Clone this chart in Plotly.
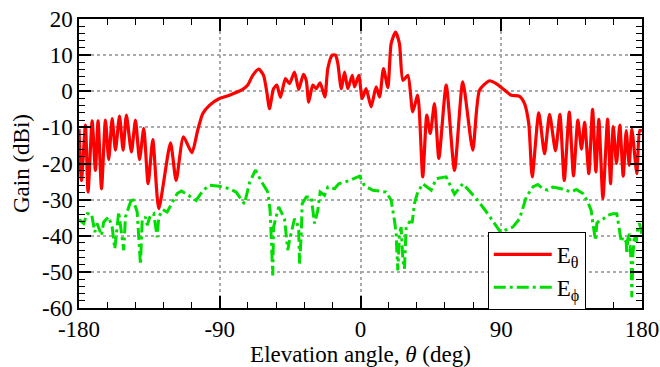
import plotly.graph_objects as go

# E_theta (red) : angle (deg), gain (dBi)
theta_red = [-180, -178.4, -175.9, -174.2, -171.6, -169.5, -167.8, -165.6, -163.1, -161.0,
             -158.8, -156.7, -154.1, -151.8, -149.7, -146.5, -143.9, -141.3, -138.6, -135.8,
             -132.8, -129.0, -121.5, -117.9, -113.2, -107.8, -104.1, -100.9, -96.6, -90.2,
             -83.8, -75.3, -72.1, -68.9, -65.0, -62.0, -59.9, -58.2, -55.6, -53.5,
             -51.2, -48.0, -45.4, -42.2, -39.5, -36.5, -34.7, -33.1, -30.5, -28.3,
             -25.8, -22.8, -20.9, -18.1, -16.0, -14.5, -12.3, -10.2, -8.1, -5.3,
             -3.8, -1.1, 1.1, 3.6, 6.8, 10.0, 12.2, 14.7, 17.5, 19.6,
             22.4, 24.9, 27.1, 30.3, 33.4, 36.6, 39.8, 42.4, 44.6, 47.3,
             50.1, 54.8, 60.1, 65.4, 71.8, 76.1, 82.5, 86.8, 91.0, 96.4,
             101.7, 104.9, 107.6, 109.8, 114.0, 117.7, 120.9, 124.7, 127.5, 130.3,
             133.5, 136.2, 139.0, 141.3, 143.3, 146.0, 148.4, 150.5, 152.4, 155.0,
             158.0, 159.9, 161.6, 163.7, 165.8, 168.0, 169.9, 171.8, 173.5, 176.7,
             178.6, 180]
gain_red = [-10.5, -24.7, -9.4, -27.9, -8.2, -21.9, -8.2, -27.0, -8.0, -18.9,
            -7.6, -16.3, -6.9, -16.3, -6.6, -16.8, -8.0, -18.9, -10.3, -25.6,
            -13.4, -32.5, -14.3, -24.7, -12.6, -17.0, -10.8, -6.2, -3.9, -2.0,
            -1.1, 0.5, 1.7, 4.4, 6.1, 4.4, -0.2, -4.8, 0.7, 1.7,
            -1.7, 3.5, 2.1, 5.3, 0.5, 4.7, 3.0, -3.0, 1.7, 0.7,
            2.3, -1.6, 6.3, 10.0, 10.0, 7.7, 0.7, 5.3, 0.7, 4.4,
            1.2, 4.4, -2.0, 0.7, -4.3, 1.2, -1.6, 6.3, 1.0, 13.2,
            16.4, 13.2, 3.0, 4.4, -5.7, -1.1, -23.7, -6.6, -11.7, -3.4,
            -18.6, 1.7, -21.9, 2.6, -16.3, 0.3, 2.9, 2.1, 0.7, -1.1,
            -1.4, -3.4, -9.0, -23.7, -6.0, -17.3, -6.4, -16.5, -6.4, -24.7,
            -5.8, -23.4, -8.0, -16.0, -8.6, -22.8, -5.0, -22.3, -7.8, -29.7,
            -7.7, -25.6, -9.8, -20.0, -9.4, -23.5, -10.9, -20.5, -10.5, -22.8,
            -10.8, -11.0]

# E_phi (green) : angle (deg), gain (dBi)
theta_green = [-180, -177.0, -174.8, -172.0, -169.9, -168.4, -165.6, -164.2, -161.0, -158.8,
               -157.1, -155.6, -154.6, -152.9, -151.4, -150.3, -148.6, -146.0, -142.8, -141.2,
               -140.7, -139.6, -137.5, -136.4, -134.3, -132.2, -130.0, -129.0, -126.4, -123.6,
               -120.4, -117.2, -114.5, -110.6, -105.1, -100.9, -96.6, -90.2, -83.8, -79.5,
               -74.2, -71.0, -67.2, -63.5, -59.3, -57.8, -57.1, -56.5, -56.1, -55.6,
               -54.4, -52.3, -48.6, -47.1, -46.5, -45.4, -43.7, -42.2, -40.7, -39.5,
               -39.0, -37.9, -37.3, -34.7, -31.5, -29.4, -27.3, -25.8, -23.0, -20.9,
               -16.6, -13.9, -7.0, -0.6, 2.6, 7.9, 16.4, 19.6, 21.7, 22.8,
               23.2, 23.9, 24.9, 26.0, 27.1, 28.1, 29.2, 31.3, 33.1, 34.5,
               36.6, 39.8, 45.2, 48.4, 54.8, 60.1, 65.4, 74.0, 81.4, 89.5,
               97.4, 101.7, 106.0, 110.2, 113.4, 116.6, 119.8, 123.0, 128.4, 134.8,
               138.0, 142.2, 145.4, 147.5, 148.6, 150.3, 151.1, 152.9, 155.4, 158.2,
               161.4, 163.9, 165.6, 166.7, 167.8, 169.9, 170.3, 171.0, 172.0, 173.1,
               173.5, 174.2, 175.2, 176.3, 177.4, 178.4, 180]
gain_green = [-35.5, -36.6, -33.9, -33.9, -39.0, -36.6, -39.9, -36.2, -34.8, -37.6,
              -43.6, -37.6, -33.4, -39.0, -44.0, -34.8, -32.5, -29.3, -33.4, -44.0,
              -48.0, -35.7, -34.8, -37.1, -34.3, -33.9, -40.4, -34.8, -32.8, -33.4,
              -30.7, -28.3, -27.6, -28.6, -30.2, -27.6, -26.0, -26.3, -27.0, -27.9,
              -31.2, -25.4, -21.8, -24.9, -27.9, -33.0, -39.4, -44.0, -51.0, -37.6,
              -35.7, -32.0, -35.3, -40.4, -44.0, -41.3, -37.6, -35.3, -36.2, -38.5,
              -47.7, -39.9, -31.1, -29.3, -29.3, -36.6, -33.0, -27.9, -28.8, -26.5,
              -27.0, -25.6, -24.7, -23.5, -26.2, -27.4, -27.9, -30.2, -35.7, -39.4,
              -44.0, -49.6, -39.4, -37.6, -46.8, -49.1, -37.6, -36.2, -36.2, -31.1,
              -27.9, -25.6, -27.4, -24.2, -23.7, -28.5, -25.6, -29.7, -33.9, -39.0,
              -37.6, -35.3, -29.3, -26.5, -25.8, -27.0, -27.4, -26.5, -27.0, -27.9,
              -27.2, -28.3, -30.7, -33.0, -36.6, -41.3, -36.6, -35.7, -35.3, -34.3,
              -33.9, -33.9, -38.5, -41.7, -40.4, -41.7, -45.0, -40.8, -39.4, -47.7,
              -57.0, -45.0, -39.9, -41.7, -37.6, -36.6, -39.9]

x_ticks = [-180, -90, 0, 90, 180]
y_ticks = [-60, -50, -40, -30, -20, -10, 0, 10, 20]

FONT = "Liberation Serif"

fig = go.Figure()
fig.add_trace(go.Scatter(x=theta_red, y=gain_red, mode="lines", name="E<sub>θ</sub>",
                         line=dict(color="#ff0000", width=3.2, shape="spline", smoothing=0.6)))
fig.add_trace(go.Scatter(x=theta_green, y=gain_green, mode="lines", name="E<sub>ϕ</sub>",
                         line=dict(color="#00dd00", width=3, dash="12px,4px,3px,4px")))

axis_common = dict(showline=True, linecolor="black", linewidth=1.5, mirror="allticks",
                   ticks="inside", ticklen=12, tickwidth=1.5, tickcolor="black",
                   showgrid=True, gridcolor="#aaaaaa", griddash="dot", gridwidth=1.5,
                   zeroline=False, automargin=False,
                   tickfont=dict(family=FONT, size=23, color="black"))

fig.update_xaxes(range=[-180, 180], tickvals=x_ticks, ticktext=[str(v) for v in x_ticks],
                 title=dict(text="Elevation angle, <i>θ</i> (deg)", font=dict(family=FONT, size=23, color="black"),
                            standoff=0),
                 minor=dict(dtick=18, ticklen=6, tickwidth=1.2, tickcolor="black", ticks="inside", showgrid=False),
                 **axis_common)
fig.update_yaxes(range=[-60, 20], tickvals=y_ticks, ticktext=[str(v) for v in y_ticks],
                 title=dict(text="Gain (dBi)", font=dict(family=FONT, size=23, color="black"), standoff=6),
                 minor=dict(dtick=2, ticklen=6, tickwidth=1.2, tickcolor="black", ticks="inside", showgrid=False),
                 **axis_common)

fig.update_layout(
    width=660, height=367,
    margin=dict(l=79, r=18, t=19, b=59),
    plot_bgcolor="white", paper_bgcolor="white",
    showlegend=True,
    legend=dict(x=0.726, y=0.263, xanchor="left", yanchor="top",
                bgcolor="white", bordercolor="black", borderwidth=1,
                itemwidth=58, tracegroupgap=0,
                font=dict(family=FONT, size=23, color="black")),
)

fig.write_html("out.html", config={"displayModeBar": False},
               post_script="document.body.style.margin='0';document.body.style.padding='0';")
